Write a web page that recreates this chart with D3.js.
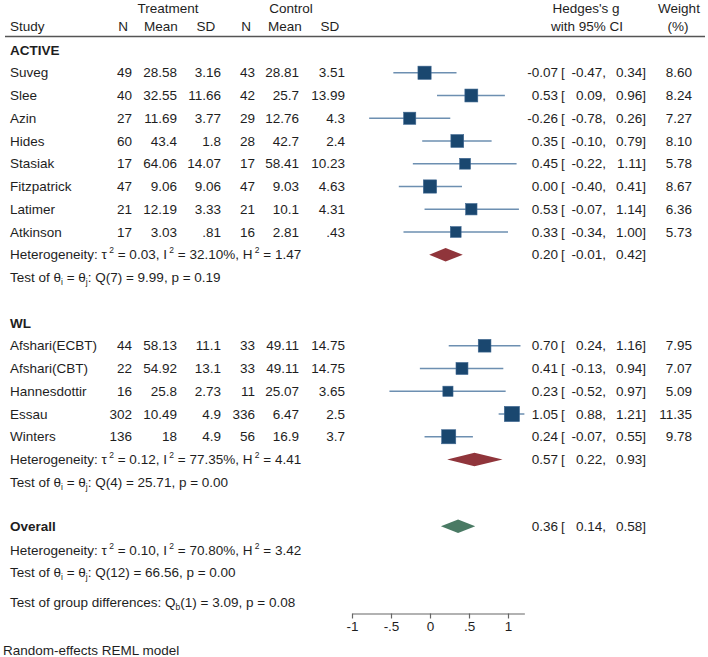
<!DOCTYPE html>
<html>
<head>
<meta charset="utf-8">
<script src="https://cdn.jsdelivr.net/npm/d3@7"></script>
<style>
  body { margin: 0; background: #fff; }
  svg { display: block; }
  text { font-family: Arial, "Liberation Sans", sans-serif; font-size: 13.5px; fill: #1e1e1e; }
</style>
</head>
<body>
<svg id="chart" width="708" height="657"></svg>
<script>
// ---------- data ----------
const studies = ["Suveg","Slee","Azin","Hides","Stasiak","Fitzpatrick","Latimer","Atkinson",
                 "Afshari(ECBT)","Afshari(CBT)","Hannesdottir","Essau","Winters"];
const studyGroup = ["ACTIVE","ACTIVE","ACTIVE","ACTIVE","ACTIVE","ACTIVE","ACTIVE","ACTIVE",
                    "WL","WL","WL","WL","WL"];
const tN    = ["49","40","27","60","17","47","21","17","44","22","16","302","136"];
const tMean = ["28.58","32.55","11.69","43.4","64.06","9.06","12.19","3.03","58.13","54.92","25.8","10.49","18"];
const tSD   = ["3.16","11.66","3.77","1.8","14.07","9.06","3.33",".81","11.1","13.1","2.73","4.9","4.9"];
const cN    = ["43","42","29","28","17","47","21","16","33","33","11","336","56"];
const cMean = ["28.81","25.7","12.76","42.7","58.41","9.03","10.1","2.81","49.11","49.11","25.07","6.47","16.9"];
const cSD   = ["3.51","13.99","4.3","2.4","10.23","4.63","4.31",".43","14.75","14.75","3.65","2.5","3.7"];
const g     = [-0.07, 0.53, -0.26, 0.35, 0.45, 0.00, 0.53, 0.33, 0.70, 0.41, 0.23, 1.05, 0.24];
const gLo   = [-0.47, 0.09, -0.78, -0.10, -0.22, -0.40, -0.07, -0.34, 0.24, -0.13, -0.52, 0.88, -0.07];
const gHi   = [0.34, 0.96, 0.26, 0.79, 1.11, 0.41, 1.14, 1.00, 1.16, 0.94, 0.97, 1.21, 0.55];
const weight= [8.60, 8.24, 7.27, 8.10, 5.78, 8.67, 6.36, 5.73, 7.95, 7.07, 5.09, 11.35, 9.78];

const groups     = ["ACTIVE","WL"];
const groupG     = [0.20, 0.57];
const groupLo    = [-0.01, 0.22];
const groupHi    = [0.42, 0.93];
const groupTau2  = ["0.03","0.12"];
const groupI2    = ["32.10%","77.35%"];
const groupH2    = ["1.47","4.41"];
const groupQdf   = ["7","4"];
const groupQ     = ["9.99","25.71"];
const groupP     = ["0.19","0.00"];

const overall    = {g: 0.36, lo: 0.14, hi: 0.58, tau2: "0.10", i2: "70.80%", h2: "3.42", df: "12", q: "66.56", p: "0.00"};
const groupDiff  = {df: "1", q: "3.09", p: "0.08"};

const axisTicks  = [-1, -0.5, 0, 0.5, 1];

// ---------- layout ----------
const svg = d3.select("#chart");
const x = d3.scaleLinear().domain([0, 1]).range([430, 508]);
const row = d3.scaleLinear().domain([0, 1]).range([50, 72.75]);

const navy = "#1a476f", ciCol = "#6d8fb1", maroon = "#90353b", green = "#4a7a64";

function txt(xp, yp, s, anchor = "start", weightF = "normal") {
  const t = svg.append("text").attr("x", xp).attr("y", yp + 4.7)
    .attr("text-anchor", anchor).attr("font-weight", weightF);
  if (s) t.text(s);
  return t;
}
function sup(t, s) {
  t.append("tspan").attr("font-size", "8.5px").attr("baseline-shift", "6px").text(s);
}
function sub(t, s) {
  t.append("tspan").attr("font-size", "8.5px").attr("baseline-shift", "-2.5px").text(s);
}
function hetText(yp, tau2, i2, h2) {
  const t = txt(10, yp, "");
  t.append("tspan").text("Heterogeneity: τ");
  sup(t, "\u00a02");
  t.append("tspan").text(" = " + tau2 + ", I");
  sup(t, "\u00a02");
  t.append("tspan").text(" = " + i2 + ", H");
  sup(t, "\u00a02");
  t.append("tspan").text(" = " + h2);
}
function testText(yp, df, q, p) {
  const t = txt(10, yp, "");
  t.append("tspan").text("Test of θ");
  sub(t, "i");
  t.append("tspan").text(" = θ");
  sub(t, "j");
  t.append("tspan").text(": Q(" + df + ") = " + q + ", p = " + p);
}
const f2 = v => v.toFixed(2);
function ciText(yp, est, lo, hi, w) {
  txt(558, yp, f2(est), "end");
  txt(561, yp, "[");
  txt(606, yp, f2(lo) + ",", "end");
  txt(646, yp, f2(hi) + "]", "end");
  if (w !== undefined) txt(692, yp, f2(w), "end");
}
function diamond(yp, est, lo, hi, col) {
  const h = 6.8;
  svg.append("path")
    .attr("d", `M${x(lo)},${yp} L${x(est)},${yp - h} L${x(hi)},${yp} L${x(est)},${yp + h} Z`)
    .attr("fill", col);
}

// ---------- header ----------
const hy1 = 8, hy2 = 26;
txt(168, hy1, "Treatment", "middle");
txt(291, hy1, "Control", "middle");
txt(10, hy2, "Study");
txt(123, hy2, "N", "middle");
txt(161, hy2, "Mean", "middle");
txt(206, hy2, "SD", "middle");
txt(246, hy2, "N", "middle");
txt(285, hy2, "Mean", "middle");
txt(330, hy2, "SD", "middle");
txt(586, hy1, "Hedges's g", "middle");
txt(587, hy2, "with 95% CI", "middle");
txt(679, hy1, "Weight", "middle");
txt(678, hy2, "(%)", "middle");
svg.append("line").attr("x1", 5).attr("x2", 705).attr("y1", 36.5).attr("y2", 36.5)
  .attr("stroke", "#555").attr("stroke-width", 1.5);

// ---------- rows ----------
let r = 0;
groups.forEach((grp, gi) => {
  txt(10, row(r), grp, "start", "bold");
  r += 1;
  studies.forEach((s, i) => {
    if (studyGroup[i] !== grp) return;
    const yp = row(r);
    txt(10, yp, s);
    txt(132, yp, tN[i], "end");
    txt(177, yp, tMean[i], "end");
    txt(221, yp, tSD[i], "end");
    txt(255, yp, cN[i], "end");
    txt(299, yp, cMean[i], "end");
    txt(345, yp, cSD[i], "end");
    svg.append("line").attr("x1", x(gLo[i])).attr("x2", x(gHi[i]))
      .attr("y1", yp).attr("y2", yp).attr("stroke", ciCol).attr("stroke-width", 1.5);
    const side = 4.5 * Math.sqrt(weight[i]);
    svg.append("rect").attr("x", x(g[i]) - side / 2).attr("y", yp - side / 2)
      .attr("width", side).attr("height", side).attr("fill", navy)
      .attr("stroke", "#3d6690").attr("stroke-width", 0.6);
    ciText(yp, g[i], gLo[i], gHi[i], weight[i]);
    r += 1;
  });
  const hy = row(r);
  hetText(hy, groupTau2[gi], groupI2[gi], groupH2[gi]);
  diamond(hy, groupG[gi], groupLo[gi], groupHi[gi], maroon);
  ciText(hy, groupG[gi], groupLo[gi], groupHi[gi]);
  r += 1;
  testText(row(r), groupQdf[gi], groupQ[gi], groupP[gi]);
  r += 2;
});

// overall
txt(10, row(r) - 1.5, "Overall", "start", "bold");
diamond(row(r) - 1.5, overall.g, overall.lo, overall.hi, green);
ciText(row(r) - 1.5, overall.g, overall.lo, overall.hi);
r += 1;
hetText(row(r) - 0.5, overall.tau2, overall.i2, overall.h2);
r += 1;
testText(row(r) - 0.5, overall.df, overall.q, overall.p);
{
  const t = txt(10, 602, "");
  t.append("tspan").text("Test of group differences: Q");
  sub(t, "b");
  t.append("tspan").text("(" + groupDiff.df + ") = " + groupDiff.q + ", p = " + groupDiff.p);
}
txt(3, 650, "Random-effects REML model");

// ---------- axis ----------
const aLo = Math.min(d3.min(axisTicks), d3.min(gLo));
const aHi = Math.max(d3.max(axisTicks), d3.max(gHi));
const axScale = x.copy().domain([aLo, aHi]).range([x(aLo), x(aHi)]);
const axis = d3.axisBottom(axScale).tickValues(axisTicks).tickSize(5).tickSizeOuter(0)
  .tickFormat(d => String(d).replace("0.", "."));
const ag = svg.append("g").attr("transform", "translate(0,613.5)").call(axis);
ag.select(".domain").attr("stroke", "#666").attr("stroke-width", 1.2);
ag.selectAll(".tick line").attr("stroke", "#666").attr("stroke-width", 1.2);
ag.selectAll(".tick text").attr("font-size", "13.5px").attr("font-family", "Arial, 'Liberation Sans', sans-serif")
  .attr("fill", "#1e1e1e").attr("y", 8);
</script>
</body>
</html>
